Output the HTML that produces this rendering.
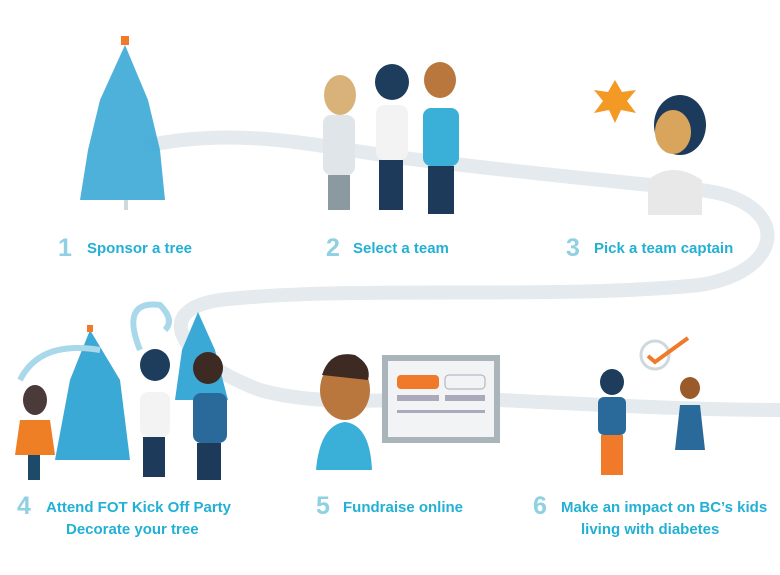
<!DOCTYPE html>
<html><head><meta charset="utf-8"><style>
body{margin:0;background:#fff;width:780px;height:575px;overflow:hidden}
svg{display:block}
.t{font-family:"Liberation Sans",sans-serif;font-weight:bold;font-size:15px;fill:#22b0d4}
.n{font-family:"Liberation Sans",sans-serif;font-weight:900;font-size:25px;fill:#8fd0e2}
</style></head><body>
<svg width="780" height="575" viewBox="0 0 780 575">
<path d="M150,145 C250,125 330,150 420,160 C520,172 600,180 700,190 C790,200 790,270 700,285 C550,300 350,285 220,300 C150,310 180,360 260,390 C330,410 420,395 500,400 C600,405 700,410 780,410" fill="none" stroke="#e4eaed" stroke-width="14" stroke-linecap="round"/>
<g fill="#3aa9d6" opacity="0.9">
<polygon points="125,45 100,100 88,150 80,200 165,200 160,150 148,100"/>
</g>
<rect x="121" y="36" width="8" height="9" fill="#f07a2a"/>
<rect x="124" y="200" width="4" height="10" fill="#cfd8dc"/>
<ellipse cx="340" cy="95" rx="16" ry="20" fill="#d9b27a"/>
<rect x="323" y="115" width="32" height="60" rx="8" fill="#dfe5e8"/>
<rect x="328" y="175" width="22" height="35" fill="#8a9aa0"/>
<ellipse cx="392" cy="82" rx="17" ry="18" fill="#1e3d5c"/>
<rect x="376" y="105" width="32" height="55" rx="8" fill="#f3f3f3"/>
<rect x="379" y="160" width="24" height="50" fill="#1e3a5a"/>
<ellipse cx="440" cy="80" rx="16" ry="18" fill="#b9773e"/>
<rect x="423" y="108" width="36" height="58" rx="8" fill="#3ab0d8"/>
<rect x="428" y="166" width="26" height="48" fill="#1e3a5a"/>
<polygon points="615,80 622,92 636,90 627,101 636,113 621,110 615,123 609,110 594,113 603,101 594,90 608,92" fill="#f39a25"/>
<ellipse cx="680" cy="125" rx="26" ry="30" fill="#1c3b5c"/>
<ellipse cx="673" cy="132" rx="18" ry="22" fill="#d9a55c"/>
<path d="M648,215 L648,180 Q672,160 702,180 L702,215 Z" fill="#e8e8e8"/>
<polygon points="90,330 70,380 55,460 130,460 120,380" fill="#3aa9d6"/>
<rect x="87" y="325" width="6" height="7" fill="#f07a2a"/>
<polygon points="198,312 182,350 175,400 228,400 215,350" fill="#3aa9d6"/>
<path d="M20,380 Q40,340 100,350 M140,350 Q120,300 160,305 Q175,320 165,330" fill="none" stroke="#a9d8ea" stroke-width="6"/>
<ellipse cx="35" cy="400" rx="12" ry="15" fill="#4a3b3a"/>
<path d="M20,420 L50,420 L55,455 L15,455 Z" fill="#ef7f25"/>
<rect x="28" y="455" width="12" height="25" fill="#1e4a6a"/>
<ellipse cx="155" cy="365" rx="15" ry="16" fill="#1e3d5c"/>
<rect x="140" y="392" width="30" height="45" rx="8" fill="#f3f3f3"/>
<rect x="143" y="437" width="22" height="40" fill="#1e3a5a"/>
<ellipse cx="208" cy="368" rx="15" ry="16" fill="#3d2a22"/>
<rect x="193" y="393" width="34" height="50" rx="8" fill="#2a6a9a"/>
<rect x="197" y="443" width="24" height="37" fill="#1e3a5a"/>
<rect x="382" y="355" width="118" height="88" fill="#a9b4bb"/>
<rect x="388" y="361" width="106" height="76" fill="#f1f3f4"/>
<rect x="397" y="375" width="42" height="14" rx="4" fill="#f07a2a"/>
<rect x="445" y="375" width="40" height="14" rx="4" fill="none" stroke="#aab"/>
<rect x="397" y="395" width="42" height="6" fill="#aab"/><rect x="445" y="395" width="40" height="6" fill="#aab"/>
<rect x="397" y="410" width="88" height="3" fill="#aab"/>
<ellipse cx="345" cy="390" rx="25" ry="30" fill="#b9773e"/>
<path d="M322,375 Q330,350 355,355 Q372,365 368,380 Z" fill="#3d2a22"/>
<path d="M316,470 Q320,425 345,422 Q370,425 372,470 Z" fill="#3ab0d8"/>
<circle cx="655" cy="355" r="14" fill="#fff" stroke="#cfd8dc" stroke-width="3"/>
<path d="M648,356 L655,362 L688,338" fill="none" stroke="#f07a2a" stroke-width="4"/>
<ellipse cx="612" cy="382" rx="12" ry="13" fill="#1e3d5c"/>
<rect x="598" y="397" width="28" height="38" rx="6" fill="#2a6a9a"/>
<rect x="601" y="435" width="22" height="40" fill="#f07a2a"/>
<ellipse cx="690" cy="388" rx="10" ry="11" fill="#9a5a2a"/>
<path d="M680,405 L700,405 L705,450 L675,450 Z" fill="#2a6a9a"/>
<text class="n" x="58" y="256">1</text><text class="t" x="87" y="253">Sponsor a tree</text>
<text class="n" x="326" y="256">2</text><text class="t" x="353" y="253">Select a team</text>
<text class="n" x="566" y="256">3</text><text class="t" x="594" y="253">Pick a team captain</text>
<text class="n" x="17" y="514">4</text><text class="t" x="46" y="512">Attend FOT Kick Off Party</text>
<text class="t" x="66" y="534">Decorate your tree</text>
<text class="n" x="316" y="514">5</text><text class="t" x="343" y="512">Fundraise online</text>
<text class="n" x="533" y="514">6</text><text class="t" x="561" y="512">Make an impact on BC’s kids</text>
<text class="t" x="581" y="534">living with diabetes</text>
</svg>
</body></html>
